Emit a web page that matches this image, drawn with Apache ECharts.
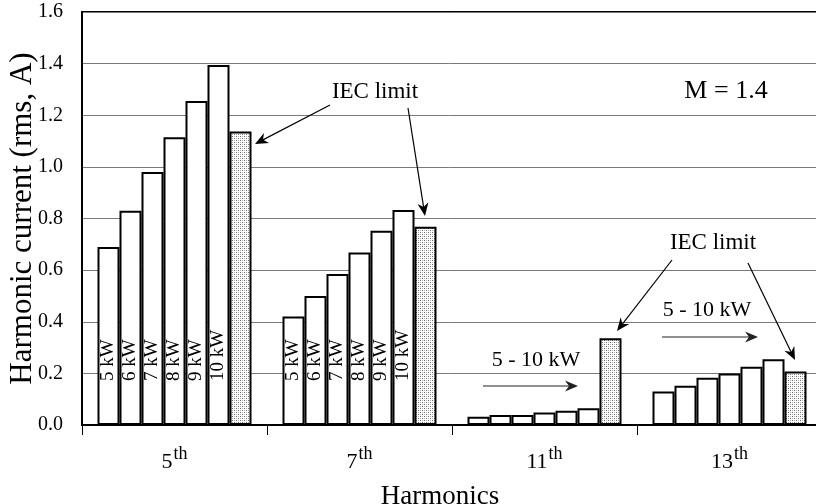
<!DOCTYPE html>
<html>
<head>
<meta charset="utf-8">
<script src="https://cdn.jsdelivr.net/npm/echarts@6/dist/echarts.min.js"></script>
<style>
  html, body { margin: 0; padding: 0; background: #fff; }
  #chart { width: 816px; height: 504px; }
</style>
</head>
<body>
<div id="chart"></div>
<script>
// Harmonic order on the x axis
const categories = ['5', '7', '11', '13'];
// Series names (rated power of the drive, then the IEC limit)
const seriesNames = ['5 kW', '6 kW', '7 kW', '8 kW', '9 kW', '10 kW', 'IEC limit'];
// Harmonic current (rms, A) for each harmonic order
const kw5 = [0.69, 0.42, 0.032, 0.13];
const kw6 = [0.83, 0.50, 0.039, 0.152];
const kw7 = [0.98, 0.585, 0.039, 0.183];
const kw8 = [1.115, 0.668, 0.048, 0.20];
const kw9 = [1.255, 0.753, 0.055, 0.226];
const kw10 = [1.395, 0.833, 0.065, 0.255];
const iecLimit = [1.137, 0.768, 0.336, 0.207];
// Y axis range
const yMin = 0, yMax = 1.6, yStep = 0.2;
// Categories whose bars carry the power rating written inside
const labelledCategories = [0, 1];

const allSeries = [kw5, kw6, kw7, kw8, kw9, kw10, iecLimit];
const FONT = 'Liberation Serif';

// stippled fill for the limit bars
function stipple() {
  const c = document.createElement('canvas');
  c.width = 4; c.height = 4;
  const g = c.getContext('2d');
  g.fillStyle = '#ffffff';
  g.fillRect(0, 0, 4, 4);
  g.fillStyle = '#6a6a6a';
  g.fillRect(0, 0, 1, 1);
  g.fillRect(2, 2, 1, 1);
  g.fillStyle = '#b0b0b0';
  g.fillRect(2, 0, 1, 1);
  g.fillRect(0, 2, 1, 1);
  return c;
}
const dots = stipple();

// arrow: shaft line plus a notched head
function arrow(x1, y1, x2, y2, color) {
  const dx = x2 - x1, dy = y2 - y1;
  const len = Math.sqrt(dx * dx + dy * dy);
  const ux = dx / len, uy = dy / len;
  const nx = -uy, ny = ux;
  const L = 13, W = 5.5, notch = 4;
  const bx = x2 - L * ux, by = y2 - L * uy;
  return [
    { type: 'line', silent: true, z: 100,
      shape: { x1: x1, y1: y1, x2: x2 - 4 * ux, y2: y2 - 4 * uy },
      style: { stroke: color, lineWidth: 1.2 } },
    { type: 'polygon', silent: true, z: 100,
      shape: { points: [
        [x2, y2],
        [bx + W * nx, by + W * ny],
        [x2 - (L - notch) * ux, y2 - (L - notch) * uy],
        [bx - W * nx, by - W * ny]
      ] },
      style: { fill: color } }
  ];
}

function note(text, x, y, size) {
  return { type: 'text', silent: true, z: 100, x: x, y: y,
    style: { text: text, font: size + 'px ' + FONT, fill: '#000',
      align: 'center', verticalAlign: 'middle' } };
}

const graphics = [].concat(
  note('IEC limit', 375, 92, 23),
  note('M = 1.4', 726, 91, 26),
  note('IEC limit', 713, 243, 23),
  note('5 - 10 kW', 536, 360, 22),
  note('5 - 10 kW', 707, 310, 22),
  arrow(330, 105, 255, 144, '#000'),
  arrow(408, 108, 425, 216, '#000'),
  arrow(672, 260, 617, 331, '#000'),
  arrow(748, 263, 795, 360, '#000'),
  arrow(483, 386, 578, 386, '#222'),
  arrow(662, 337, 758, 337, '#222')
);

const series = allSeries.map(function (vals, si) {
  const isLimit = si === allSeries.length - 1;
  return {
    name: seriesNames[si],
    type: 'bar',
    barWidth: 22,
    barGap: '0%',
    data: vals.map(function (v, ci) {
      return {
        value: v,
        label: { show: !isLimit && labelledCategories.indexOf(ci) >= 0 }
      };
    }),
    itemStyle: {
      color: isLimit ? { image: dots, repeat: 'repeat' } : '#ffffff',
      borderColor: '#000',
      borderWidth: 2
    },
    label: {
      show: false,
      position: 'insideBottom',
      distance: 44,
      rotate: 90,
      align: 'left',
      verticalAlign: 'middle',
      formatter: seriesNames[si],
      fontFamily: FONT,
      fontSize: 19,
      color: '#000'
    },
    emphasis: { disabled: true },
    animation: false
  };
});

const chart = echarts.init(document.getElementById('chart'), null, { renderer: 'canvas' });
chart.setOption({
  animation: false,
  backgroundColor: '#fff',
  textStyle: { fontFamily: FONT },
  grid: {
    left: 82, top: 12, width: 740, bottom: 79,
    show: true, borderColor: '#000', borderWidth: 2,
    backgroundColor: 'transparent',
    containLabel: false, outerBoundsMode: 'none'
  },
  xAxis: {
    type: 'category',
    data: categories,
    name: 'Harmonics',
    nameLocation: 'middle',
    nameGap: 58,
    nameMoveOverlap: false,
    nameTextStyle: { fontFamily: FONT, fontSize: 27, color: '#000', padding: [0, 24, 0, 0] },
    axisLine: { show: true, lineStyle: { color: '#000', width: 2 } },
    axisTick: { show: true, alignWithLabel: false, length: 10, lineStyle: { color: '#000', width: 1 } },
    axisLabel: {
      margin: 20,
      formatter: function (v) { return '{n|' + v + '}{s|th}'; },
      rich: {
        n: { fontFamily: FONT, fontSize: 22, color: '#000', verticalAlign: 'bottom', lineHeight: 28 },
        s: { fontFamily: FONT, fontSize: 18, color: '#000', verticalAlign: 'top', lineHeight: 28, padding: [0, 0, 0, 1] }
      }
    },
    splitLine: { show: false }
  },
  yAxis: {
    type: 'value',
    min: yMin, max: yMax, interval: yStep,
    name: 'Harmonic current (rms, A)',
    nameLocation: 'middle',
    nameGap: 44,
    nameRotate: 90,
    nameMoveOverlap: false,
    nameTextStyle: { fontFamily: FONT, fontSize: 31, color: '#000' },
    axisLine: { show: true, lineStyle: { color: '#000', width: 2 } },
    axisTick: { show: false },
    axisLabel: {
      margin: 19,
      fontFamily: FONT, fontSize: 20, color: '#000',
      formatter: function (v) { return v.toFixed(1); }
    },
    splitLine: { show: true, lineStyle: { color: '#7a7a7a', width: 1 } }
  },
  series: series,
  graphic: graphics
});
</script>
</body>
</html>
